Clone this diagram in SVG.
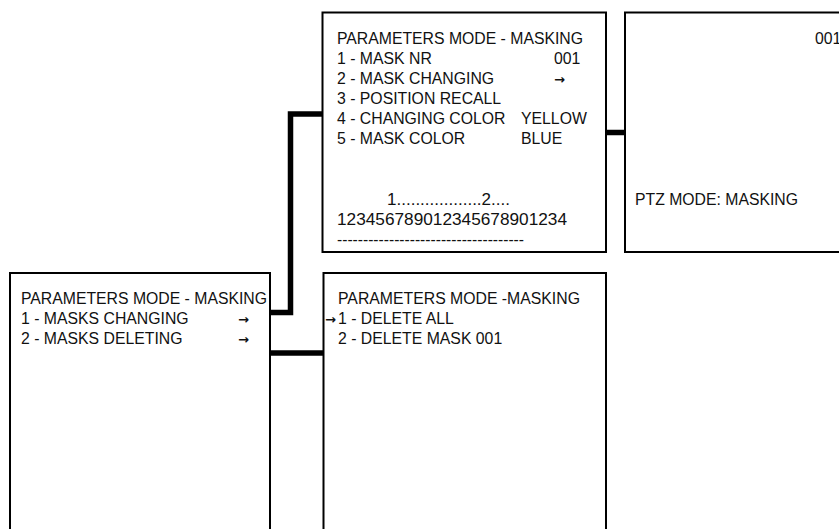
<svg xmlns="http://www.w3.org/2000/svg" width="839" height="529" viewBox="0 0 839 529">
<style>
.box{fill:#fff;stroke:#000;stroke-width:2}
.conn{fill:none;stroke:#000;stroke-width:5.5;stroke-linejoin:miter;stroke-linecap:butt}
text{font-family:"Liberation Sans",Arial,sans-serif;font-size:15.8px;fill:#111}
.ar{font-family:"DejaVu Sans",sans-serif;font-size:13px;font-weight:bold}
</style>
<rect width="839" height="529" fill="#fff"/>
<g id="connectors">
<path class="conn" d="M270 312.5 H290.5 V114 H322.5"/>
<path class="conn" d="M270 353 H323.5"/>
<path class="conn" d="M606 132.5 H625"/>
</g>
<g id="node-masking-params">
<rect class="box" x="322.5" y="12.5" width="283.5" height="239.5"/>
<text x="337" y="44" textLength="246" lengthAdjust="spacingAndGlyphs">PARAMETERS MODE - MASKING</text>
<text x="337" y="64">1 - MASK NR</text>
<text x="554" y="64">001</text>
<text x="337" y="84">2 - MASK CHANGING</text>
<text class="ar" x="554" y="84">→</text>
<text x="337" y="104">3 - POSITION RECALL</text>
<text x="337" y="124">4 - CHANGING COLOR</text>
<text x="521" y="124">YELLOW</text>
<text x="337" y="144">5 - MASK COLOR</text>
<text x="521" y="144">BLUE</text>
<text x="387" y="205" textLength="123" lengthAdjust="spacingAndGlyphs">1..................2....</text>
<text x="337" y="225" textLength="230" lengthAdjust="spacingAndGlyphs">123456789012345678901234</text>
<text x="337" y="245" textLength="187" lengthAdjust="spacingAndGlyphs">------------------------------------</text>
</g>
<g id="node-ptz">
<rect class="box" x="625" y="12.5" width="230" height="239.5"/>
<text x="815" y="44">001</text>
<text x="635" y="205" textLength="163" lengthAdjust="spacingAndGlyphs">PTZ MODE: MASKING</text>
</g>
<g id="node-main">
<rect class="box" x="10" y="273" width="260" height="270"/>
<text x="21" y="304" textLength="246" lengthAdjust="spacingAndGlyphs">PARAMETERS MODE - MASKING</text>
<text x="21" y="324">1 - MASKS CHANGING</text>
<text class="ar" x="238" y="324">→</text>
<text x="21" y="344">2 - MASKS DELETING</text>
<text class="ar" x="238" y="344">→</text>
</g>
<g id="node-delete">
<rect class="box" x="323.5" y="273" width="282.5" height="270"/>
<text x="338" y="304">PARAMETERS MODE -MASKING</text>
<text class="ar" x="325" y="324">→</text>
<text x="338" y="324">1 - DELETE ALL</text>
<text x="338" y="344">2 - DELETE MASK 001</text>
</g>
</svg>
